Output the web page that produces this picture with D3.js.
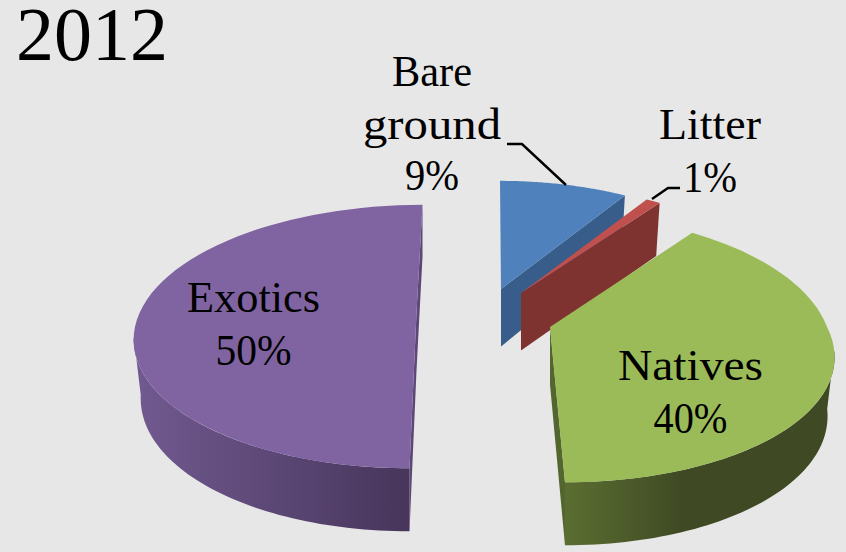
<!DOCTYPE html>
<html><head><meta charset="utf-8">
<script src="https://cdn.jsdelivr.net/npm/d3@7"></script>
<style>html,body{margin:0;padding:0;background:#e7e7e7}svg{display:block}text{font-family:"Liberation Serif",serif;fill:#000}</style>
</head><body><svg id="c" width="846" height="552"></svg>
<script>
// data
const title = "2012";
const categories = ["Bare ground", "Litter", "Natives", "Exotics"];
const values = [9, 1, 40, 50];
const topColors = ["#4f81bd", "#c0504d", "#9bbb59", "#8064a2"];
const cutColors = ["#385d8a", "#7f3331", "#52662d", "#5c4777"];

// layout of each exploded slice
const apexX = [501, 521, 550, 416.5];
const apexY = [289, 293, 327, 313];
const radiusX = [268, 270, 277, 277];
const farSkew = [-1, 0, 0, 6];
const nearSkew = [1, 0, 15, -7];
const farLift = [0, 0, 5, 0];
const labelX = [432, 710, 690.5, 253.5];
const labelY = [[86, 139, 190], [139, 192], [380, 433], [312, 365]];
const labelWidths = [[80, 138, 54], [102, 54], [145, 74], [133, 76]];

const radiusY = 127.5, persp = 0.179, rimShrink = 0.975;
const svg = d3.select("#c");
const defs = svg.append("defs");
const W = 846, H = 552;

svg.append("rect").attr("width", W).attr("height", H).attr("fill", "#e7e7e7");

const arcs = d3.pie().sort(null).value(d => d)(values);

function project(i, theta, r, lower) {
  const c = Math.cos(theta), s = Math.sin(theta);
  const w = 1 + persp * r * c;
  const skew = c > 0 ? farSkew[i] * c : -nearSkew[i] * c;
  const lift = c > 0 ? farLift[i] * c : 0;
  const rx = radiusX[i] * (lower ? rimShrink : 1);
  const x = apexX[i] + r * rx * s / w + r * skew;
  const y = apexY[i] - r * radiusY * c / w - r * lift + (lower ? 57.5 - 5.5 * r * c : 0);
  return [x, y];
}
const line = d3.line();
const sweep = (a, b) => d3.range(0, 61).map(k => a + (b - a) * k / 60);

// horizontal shading of the outer wall
const wallStops = {
  2: [[0, "#5b6e31"], [0.45, "#3f4a24"], [1, "#3f4a24"]],
  3: [[0, "#70598f"], [1, "#47355b"]]
};
const wallSpan = { 2: [565, 825], 3: [140, 410] };
Object.keys(wallStops).forEach(i => {
  const g = defs.append("linearGradient").attr("id", "wall" + i)
    .attr("gradientUnits", "userSpaceOnUse")
    .attr("x1", wallSpan[i][0]).attr("x2", wallSpan[i][1]).attr("y1", 0).attr("y2", 0);
  wallStops[i].forEach(s => g.append("stop").attr("offset", s[0]).attr("stop-color", s[1]));
});

const silhouette = Math.acos(-persp);
const order = [3, 0, 1, 2];
order.forEach(i => {
  const a = arcs[i], g = svg.append("g");
  const a0 = a.startAngle, a1 = a.endAngle;
  if (i === 3) {
    // thin sliver along the full straight edge
    const e = [project(i, a1, 1, false), project(i, a1, 1, true), project(i, a0, 1, true), project(i, a0, 1, false)];
    g.append("path").attr("fill", cutColors[i]).attr("d", line([e[0], e[1], [apexX[i], apexY[i] + 57.5], e[2], e[3], [apexX[i], apexY[i]]]) + "Z");
  } else {
    g.append("path").attr("fill", cutColors[i]).attr("d", line([
      project(i, a1, 0, false), project(i, a1, 1, false),
      project(i, a1, 1, true), project(i, a1, 0, true)]) + "Z");
  }
  // outer wall, from the silhouette point round the near side
  const w0 = Math.max(a0, silhouette), w1 = Math.min(a1, Math.PI * 2 - silhouette);
  if (w1 > w0) {
    const ts = sweep(w0, w1);
    const pts = ts.map(t => project(i, t, 1, false)).concat(ts.slice().reverse().map(t => project(i, t, 1, true)));
    g.append("path").attr("fill", "url(#wall" + i + ")").attr("d", line(pts) + "Z");
  }
  // top face
  const face = [[apexX[i], apexY[i]]].concat(sweep(a0, a1).map(t => project(i, t, 1, false)));
  g.append("path").attr("fill", topColors[i]).attr("d", line(face) + "Z");
});

// leader lines
const leaders = [[[507, 144], [522, 144], [566, 185]], [[652, 199], [668, 188], [680, 188]]];
leaders.forEach(l => svg.append("path").attr("fill", "none").attr("stroke", "#000").attr("stroke-width", 2.4).attr("d", line(l)));

// labels
const labelSize = 44;
categories.forEach((c, i) => {
  const lines = (i === 0 ? c.split(" ") : [c]).concat([values[i] + "%"]);
  lines.forEach((t, k) => svg.append("text").attr("x", labelX[i]).attr("y", labelY[i][k])
    .attr("text-anchor", "middle").attr("font-size", labelSize)
    .attr("textLength", labelWidths[i][k]).attr("lengthAdjust", "spacingAndGlyphs").text(t));
});
svg.append("text").attr("x", 16).attr("y", 60).attr("font-size", 76).text(title);
</script></body></html>
